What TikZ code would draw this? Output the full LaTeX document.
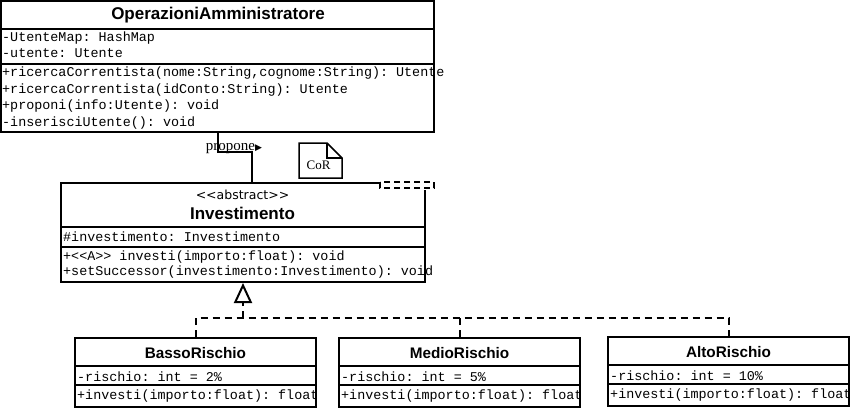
\documentclass[tikz,border=0pt]{standalone}
\usepackage{fontspec}
\setmainfont{Liberation Serif}
\setsansfont{Liberation Sans}
\setmonofont{Liberation Mono}
\newfontfamily\symfont{DejaVu Sans}
\usepackage{tikz}
\usetikzlibrary{arrows.meta,positioning,calc}

\tikzset{
  classbox/.style={draw, line width=2pt, inner sep=0pt,
                   minimum width=241pt, minimum height=69pt},
  compart/.style={line width=2pt},
  member/.style={anchor=west, inner sep=0pt,
                 font=\ttfamily\fontsize{13.4}{15}\selectfont},
  classname/.style={inner sep=0pt, font=\sffamily\bfseries\fontsize{17}{19}\selectfont},
  subname/.style={inner sep=0pt, font=\sffamily\bfseries\fontsize{15.3}{17}\selectfont},
  realize/.style={line width=2pt, dash pattern=on 7pt off 5pt},
  assoc/.style={line width=2pt},
  noteline/.style={line width=1.5pt, line join=miter}
}

\begin{document}
\begin{tikzpicture}[x=1pt, y=-1pt]
    \useasboundingbox (0,0) rectangle (850,408);
    % Class boxes
    \node[classbox, minimum width=433pt, minimum height=131pt] (opAdmin) at (217.5,66.5) {};
    \node[classbox, minimum width=364pt, minimum height=99pt] (invest) at (243,232.5) {};
    \node[classbox] (basso) at (195.5,372.5) {};
    \node[classbox] (medio) at (459.5,372.5) {};
    \node[classbox] (alto) at (728.5,371.5) {};
    % Compartments
    \draw[compart] (opAdmin.west |- 0,29) -- (opAdmin.east |- 0,29);
    \draw[compart] (opAdmin.west |- 0,64) -- (opAdmin.east |- 0,64);
    \draw[compart] (invest.west |- 0,227) -- (invest.east |- 0,227);
    \draw[compart] (invest.west |- 0,247) -- (invest.east |- 0,247);
    \draw[compart] (basso.west |- 0,366) -- (basso.east |- 0,366);
    \draw[compart] (basso.west |- 0,385) -- (basso.east |- 0,385);
    \draw[compart] (medio.west |- 0,366) -- (medio.east |- 0,366);
    \draw[compart] (medio.west |- 0,385) -- (medio.east |- 0,385);
    \draw[compart] (alto.west |- 0,365) -- (alto.east |- 0,365);
    \draw[compart] (alto.west |- 0,384) -- (alto.east |- 0,384);
    % OperazioniAmministratore
    \node[classname] (opAdminName) at (218,15) {OperazioniAmministratore};
    \node[member] (opAttrA) at (2,38) {-UtenteMap: HashMap};
    \node[member] (opAttrB) at (2,53) {-utente: Utente};
    \node[member] (opOpA) at (2,73) {+ricercaCorrentista(nome:String,cognome:String): Utente};
    \node[member] (opOpB) at (2,90) {+ricercaCorrentista(idConto:String): Utente};
    \node[member] (opOpC) at (2,106) {+proponi(info:Utente): void};
    \node[member] (opOpD) at (2,123) {-inserisciUtente(): void};
    % Investimento
    \node[inner sep=0pt, font=\symfont\fontsize{12.5}{14}\selectfont] (investStereo) at (242.5,195) {<<abstract>>};
    \node[classname] (investName) at (242.5,213) {Investimento};
    \node[member] (investAttr) at (63,237) {\#investimento: Investimento};
    \node[member] (investOpA) at (63,257) {+<<A>> investi(importo:float): void};
    \node[member] (investOpB) at (63,272) {+setSuccessor(investimento:Investimento): void};
    % Subclasses
    \node[subname] (bassoName) at (195.5,353) {BassoRischio};
    \node[member] (bassoAttr) at (77,376.5) {-rischio: int = 2\%};
    \node[member] (bassoOp) at (77,396.5) {+investi(importo:float): float};
    \node[subname] (medioName) at (459.5,353) {MedioRischio};
    \node[member] (medioAttr) at (341,376.5) {-rischio: int = 5\%};
    \node[member] (medioOp) at (341,396.5) {+investi(importo:float): float};
    \node[subname] (altoName) at (728.5,352) {AltoRischio};
    \node[member] (altoAttr) at (610,375.5) {-rischio: int = 10\%};
    \node[member] (altoOp) at (610,395.5) {+investi(importo:float): float};
    % Association
    \draw[assoc] (opAdmin.south) -- ++(0,19) -| ([xshift=9pt]invest.north);
    \node[inner sep=0pt, font=\rmfamily\fontsize{15}{17}\selectfont] (assocLabel) at (234,148.5)
         {propone{\symfont\fontsize{9}{10}\selectfont ▶}};
    % Note
    \draw[noteline] (299,143) -- (327,143) -- (342,158) -- (342,178) -- (299,178) -- cycle;
    \draw[noteline] (327,143) -- (327,158) -- (342,158);
    \node[inner sep=0pt, font=\rmfamily\fontsize{13}{15}\selectfont] (corLabel) at (318.5,165) {CoR};
    % Self link
    \fill[white] (379,180) rectangle (437,189.5);
    \draw[realize, dash pattern=on 6pt off 4pt] (380,182) rectangle (434,188);
    % Realization
    \coordinate (junction) at (243,318);
    \draw[realize] (basso.north) |- (junction) -| (alto.north);
    \draw[realize] (medio.north) -- (medio.north |- junction);
    \draw[realize, -{Triangle[open, length=20pt, width=18pt, line width=2pt]}] (junction) -- (invest.south);
\end{tikzpicture}
\end{document}
